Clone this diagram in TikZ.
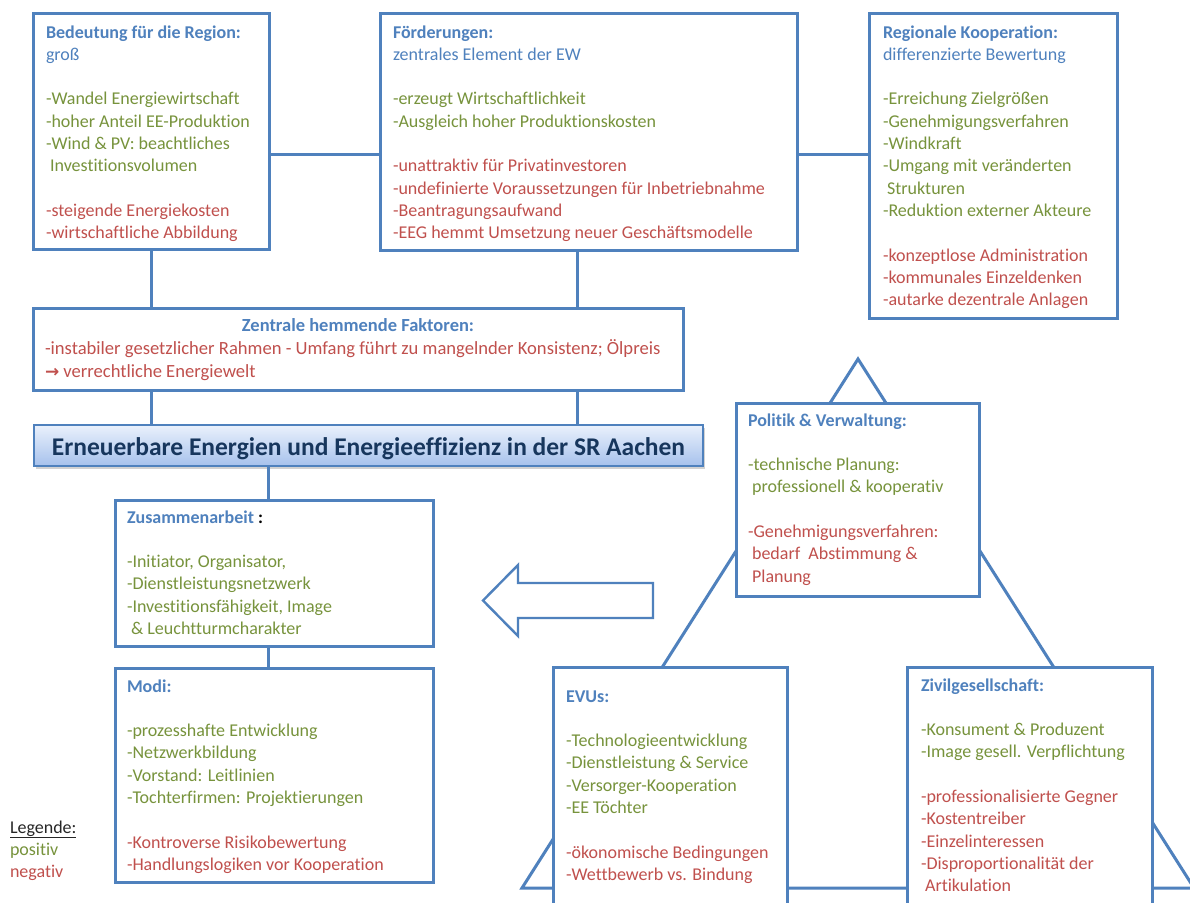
\documentclass[tikz,border=0pt]{standalone}
\usepackage{fontspec}
\setmainfont{Carlito}[Ligatures=NoCommon]
\newfontfamily\arrowfont{DejaVu Sans}
\usetikzlibrary{shadows}

\definecolor{frameblue}{RGB}{79,129,189}
\definecolor{headblue}{RGB}{79,129,189}
\definecolor{posgreen}{RGB}{119,147,60}
\definecolor{negred}{RGB}{192,80,77}
\definecolor{bannertext}{RGB}{23,54,93}
\definecolor{bannertop}{RGB}{234,241,252}
\definecolor{bannerbot}{RGB}{166,193,236}

\newcommand\headc{\color{headblue}}
\newcommand\posc{\color{posgreen}}
\newcommand\negc{\color{negred}}

\begin{document}
\begin{tikzpicture}[x=1pt,y=-1pt,
  panel/.style={draw=frameblue, line width=3pt, fill=white, anchor=north west,
                inner sep=0pt, outer sep=0pt},
  link/.style={draw=frameblue, line width=3pt},
  body/.style={anchor=base west, inner sep=0pt, outer sep=0pt,
               font=\fontsize{18}{22.3}\selectfont},
  ]
\useasboundingbox[fill=white] (0,0) rectangle (1190,902);
\clip (0,0) rectangle (1190,902);

% actor triangle behind the boxes
\coordinate (apex) at (858,359);
\coordinate (baseL) at (522,888);
\coordinate (baseR) at (1194,888);
\draw[link, line join=miter] (apex) -- (baseL) -- (baseR) -- cycle;

% hollow arrow pointing to the cooperation box
\draw[frameblue, line width=2.4pt, line join=miter]
  (483,600.5) -- (518,565) -- (518,583) -- (653,583) -- (653,618) -- (518,618) -- (518,636) -- cycle;

% boxes
\node[panel, minimum width=236pt, minimum height=236pt] (bed)    at (33,13)  {};
\node[panel, minimum width=417pt, minimum height=237pt] (foerd)  at (380,13) {};
\node[panel, minimum width=248pt, minimum height=305pt] (reg)    at (869,13) {};
\node[panel, minimum width=650pt, minimum height=82pt]  (zen)    at (33,308) {};
\node[panel, draw=frameblue, line width=1.4pt, top color=bannertop, bottom color=bannerbot,
      drop shadow={shadow xshift=2pt, shadow yshift=-3pt, opacity=0.35},
      minimum width=669pt, minimum height=41pt]         (banner) at (34,425) {};
\node[panel, minimum width=318pt, minimum height=146pt] (zus)    at (115,500) {};
\node[panel, minimum width=318pt, minimum height=214pt] (modi)   at (115,668) {};
\node[panel, minimum width=243pt, minimum height=193pt] (pol)    at (736,403) {};
\node[panel, minimum width=234pt, minimum height=253pt] (evu)    at (553,667) {};
\node[panel, minimum width=245pt, minimum height=253pt] (ziv)    at (907,667) {};

% connectors
\coordinate (fx) at ([xshift=-11.5pt]foerd.south);
\coordinate (zx) at ([xshift=-6pt]zus.north);
\draw[link] ([yshift=-23pt]bed.east) -- ([yshift=-23pt]bed.east -| foerd.west);
\draw[link] ([yshift=-23pt]foerd.east) -- ([yshift=-23pt]foerd.east -| reg.west);
\draw[link] (bed.south) -- (bed.south |- zen.north);
\draw[link] (fx) -- (fx |- zen.north);
\draw[link] (zen.south -| bed.south) -- (bed.south |- banner.north);
\draw[link] (zen.south -| fx) -- (fx |- banner.north);
\draw[link] (banner.south -| zx) -- (zx);
\draw[link] (zus.south -| zx) -- (zx |- modi.north);

% box texts
\node[body] (bed-t) at (46,38) {\begin{tabular}[t]{@{}l@{}}
  \headc\bfseries Bedeutung für die Region:\\
  \headc groß\\
  \\
  \posc -Wandel Energiewirtschaft\\
  \posc -hoher Anteil EE-Produktion\\
  \posc -Wind \& PV: beachtliches\\
  \posc\ Investitionsvolumen\\
  \\
  \negc -steigende Energiekosten\\
  \negc -wirtschaftliche Abbildung
\end{tabular}};

\node[body] (foerd-t) at (393,38) {\begin{tabular}[t]{@{}l@{}}
  \headc\bfseries Förderungen:\\
  \headc zentrales Element der EW\\
  \\
  \posc -erzeugt Wirtschaftlichkeit\\
  \posc -Ausgleich hoher Produktionskosten\\
  \\
  \negc -unattraktiv für Privatinvestoren\\
  \negc -undefinierte Voraussetzungen für Inbetriebnahme\\
  \negc -Beantragungsaufwand\\
  \negc -EEG hemmt Umsetzung neuer Geschäftsmodelle
\end{tabular}};

\node[body] (reg-t) at (883,38) {\begin{tabular}[t]{@{}l@{}}
  \headc\bfseries Regionale Kooperation:\\
  \headc differenzierte Bewertung\\
  \\
  \posc -Erreichung Zielgrößen\\
  \posc -Genehmigungsverfahren\\
  \posc -Windkraft\\
  \posc -Umgang mit veränderten\\
  \posc\ Strukturen\\
  \posc -Reduktion externer Akteure\\
  \\
  \negc -konzeptlose Administration\\
  \negc -kommunales Einzeldenken\\
  \negc -autarke dezentrale Anlagen
\end{tabular}};

\node[body, anchor=base, text=headblue, font=\fontsize{18.5}{23}\selectfont\bfseries]
  (zen-h) at (zen.north |- 0,331) {Zentrale hemmende Faktoren:};
\node[body, text=negred, font=\fontsize{18.6}{23}\selectfont] (zen-t) at (45,354) {\begin{tabular}[t]{@{}l@{}}
  -instabiler gesetzlicher Rahmen - Umfang führt zu mangelnder Konsistenz; Ölpreis\\
  {\arrowfont\bfseries\fontsize{17}{23}\selectfont →} verrechtliche Energiewelt
\end{tabular}};

\node[anchor=base, inner sep=0pt, text=bannertext, font=\fontsize{25.5}{28}\selectfont\bfseries]
  (banner-t) at (banner.center |- 0,455) {Erneuerbare Energien und Energieeffizienz in der SR Aachen};

\node[body] (zus-t) at (127,523) {\begin{tabular}[t]{@{}l@{}}
  {\headc\bfseries Zusammenarbeit}\textbf{ :}\\
  \\
  \posc -Initiator, Organisator,\\
  \posc -Dienstleistungsnetzwerk\\
  \posc -Investitionsfähigkeit, Image\\
  \posc\ \& Leuchtturmcharakter
\end{tabular}};

\node[body] (modi-t) at (127,692) {\begin{tabular}[t]{@{}l@{}}
  \headc\bfseries Modi:\\
  \\
  \posc -prozesshafte Entwicklung\\
  \posc -Netzwerkbildung\\
  \posc -Vorstand: Leitlinien\\
  \posc -Tochterfirmen: Projektierungen\\
  \\
  \negc -Kontroverse Risikobewertung\\
  \negc -Handlungslogiken vor Kooperation
\end{tabular}};

\node[body] (pol-t) at (748,426) {\begin{tabular}[t]{@{}l@{}}
  \headc\bfseries Politik \& Verwaltung:\\
  \\
  \posc -technische Planung:\\
  \posc\ professionell \& kooperativ\\
  \\
  \negc -Genehmigungsverfahren:\\
  \negc\ bedarf\ \ Abstimmung \&\\
  \negc\ Planung
\end{tabular}};

\node[body] (evu-t) at (566,702) {\begin{tabular}[t]{@{}l@{}}
  \headc\bfseries EVUs:\\
  \\
  \posc -Technologieentwicklung\\
  \posc -Dienstleistung \& Service\\
  \posc -Versorger-Kooperation\\
  \posc -EE Töchter\\
  \\
  \negc -ökonomische Bedingungen\\
  \negc -Wettbewerb vs. Bindung
\end{tabular}};

\node[body] (ziv-t) at (921,691) {\begin{tabular}[t]{@{}l@{}}
  \headc\bfseries Zivilgesellschaft:\\
  \\
  \posc -Konsument \& Produzent\\
  \posc -Image gesell. Verpflichtung\\
  \\
  \negc -professionalisierte Gegner\\
  \negc -Kostentreiber\\
  \negc -Einzelinteressen\\
  \negc -Disproportionalität der\\
  \negc\ Artikulation
\end{tabular}};

% legend
\node[body] (legend) at (10,833) {\begin{tabular}[t]{@{}l@{}}
  \color{black!85}\underline{Legende:}\\
  \posc positiv\\
  \negc negativ
\end{tabular}};
\end{tikzpicture}
\end{document}
